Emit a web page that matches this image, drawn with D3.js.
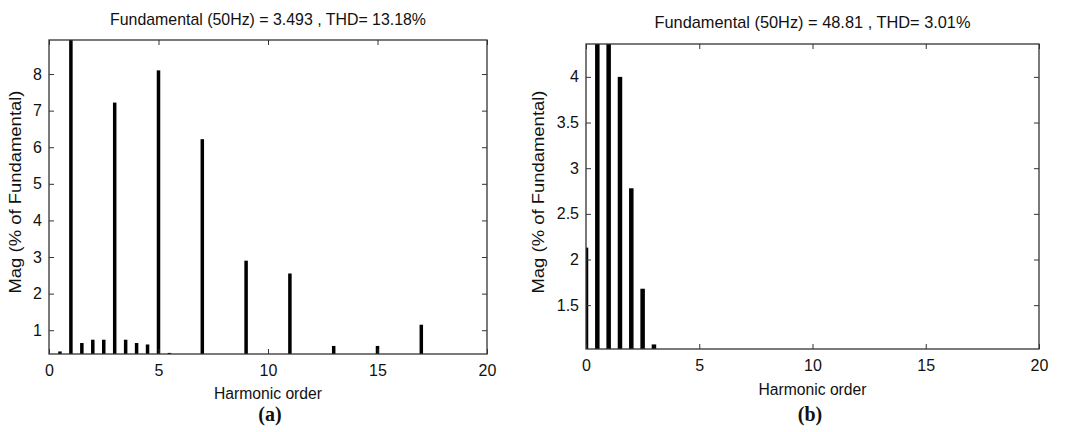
<!DOCTYPE html>
<html>
<head>
<meta charset="utf-8">
<title>Harmonic spectrum</title>
<script src="https://cdn.jsdelivr.net/npm/d3@7"></script>
<style>
    body { margin: 0; background: #fff; }
    svg text { font-family: "Liberation Sans", Arial, sans-serif; fill: #111; }
    .tick text { font-size: 16px; }
    .caption { font-family: "Liberation Serif", "Times New Roman", serif; font-weight: bold; font-size: 20px; }
</style>
</head>
<body>
<svg id="chart" width="1073" height="432"></svg>
<script>
// (a) harmonic orders and magnitudes (% of fundamental)
var ordersA = [0.5, 1, 1.5, 2, 2.5, 3, 3.5, 4, 4.5, 5, 5.5, 7, 9, 11, 13, 15, 17];
var magA    = [0.42, 100, 0.65, 0.74, 0.74, 7.22, 0.74, 0.65, 0.61, 8.1, 0.38, 6.22, 2.9, 2.55, 0.57, 0.57, 1.15];
var yTicksA = [1, 2, 3, 4, 5, 6, 7, 8];
var titleA  = "Fundamental (50Hz) = 3.493 , THD= 13.18%";

// (b)
var ordersB = [0, 0.5, 1, 1.5, 2, 2.5, 3];
var magB    = [2.13, 6.0, 100, 4.0, 2.78, 1.68, 1.07];
var yTicksB = [1.5, 2, 2.5, 3, 3.5, 4];
var titleB  = "Fundamental (50Hz) = 48.81 , THD= 3.01%";

var xTicks = [0, 5, 10, 15, 20];

var svg = d3.select("#chart");

function drawPanel(opt) {
    var w = opt.right - opt.left, h = opt.bottom - opt.top;
    var g = svg.append("g").attr("transform", "translate(" + opt.left + "," + opt.top + ")");

    var x = d3.scaleLinear().domain([0, 20]).range([0, w]);
    var y = d3.scaleLinear().domain(opt.yDomain).range([h, 0]);

    g.append("clipPath").attr("id", opt.id + "-clip")
        .append("rect").attr("width", w).attr("height", h);

    // bars (stems) from the bottom of the axes
    g.append("g").attr("clip-path", "url(#" + opt.id + "-clip)")
        .selectAll("rect")
        .data(opt.orders)
        .enter().append("rect")
        .attr("x", function(d) { return x(d) - opt.barW / 2; })
        .attr("width", opt.barW)
        .attr("y", function(d, i) { return y(Math.min(opt.mags[i], opt.yDomain[1] + 1)); })
        .attr("height", function(d, i) { return h - y(Math.min(opt.mags[i], opt.yDomain[1] + 1)); })
        .style("fill", "#000");

    // inward ticks on all four sides
    var bottom = g.append("g").attr("transform", "translate(0," + h + ")")
        .call(d3.axisBottom(x).tickValues(xTicks).tickSize(-5).tickPadding(11));
    var top = g.append("g")
        .call(d3.axisTop(x).tickValues(xTicks).tickSize(-5).tickFormat(""));
    var left = g.append("g")
        .call(d3.axisLeft(y).tickValues(opt.yTicks).tickSize(-5).tickPadding(7).tickFormat(d3.format("~g")));
    var right = g.append("g").attr("transform", "translate(" + w + ",0)")
        .call(d3.axisRight(y).tickValues(opt.yTicks).tickSize(-5).tickFormat(""));
    [bottom, top, left, right].forEach(function(a) {
        a.select(".domain").remove();
        a.selectAll("line").style("stroke", "#333");
        a.selectAll("text").style("fill", "#111");
    });

    g.append("rect").attr("width", w).attr("height", h)
        .style("fill", "none").style("stroke", "#333").style("stroke-width", 1.3);

    // title and labels (condensed as in the picture)
    g.append("text").attr("x", w / 2).attr("y", opt.titleY - opt.top)
        .attr("text-anchor", "middle").style("font-size", "17px")
        .attr("textLength", 316).attr("lengthAdjust", "spacingAndGlyphs")
        .text(opt.title);

    g.append("text").attr("x", w / 2).attr("y", opt.xlabY - opt.top)
        .attr("text-anchor", "middle").style("font-size", "16px")
        .attr("textLength", 108).attr("lengthAdjust", "spacingAndGlyphs")
        .text("Harmonic order");

    g.append("text")
        .attr("transform", "translate(" + (opt.ylabX - opt.left) + "," + (192 - opt.top) + ") rotate(-90)")
        .attr("text-anchor", "middle").style("font-size", "16px")
        .attr("textLength", 203).attr("lengthAdjust", "spacingAndGlyphs")
        .text("Mag (% of Fundamental)");

    svg.append("text").attr("class", "caption")
        .attr("x", opt.capX).attr("y", 421)
        .attr("text-anchor", "middle")
        .text(opt.caption);
}

drawPanel({
    id: "a", left: 49, top: 40, right: 487, bottom: 354,
    orders: ordersA, mags: magA, yDomain: [0.35, 8.93], yTicks: yTicksA,
    barW: 3.5, title: titleA, titleY: 25, xlabY: 399, ylabX: 21, capX: 270, caption: "(a)"
});

drawPanel({
    id: "b", left: 586, top: 44, right: 1039, bottom: 349,
    orders: ordersB, mags: magB, yDomain: [1.02, 4.36], yTicks: yTicksB,
    barW: 4.5, title: titleB, titleY: 28, xlabY: 395, ylabX: 544, capX: 810, caption: "(b)"
});
</script>
</body>
</html>
